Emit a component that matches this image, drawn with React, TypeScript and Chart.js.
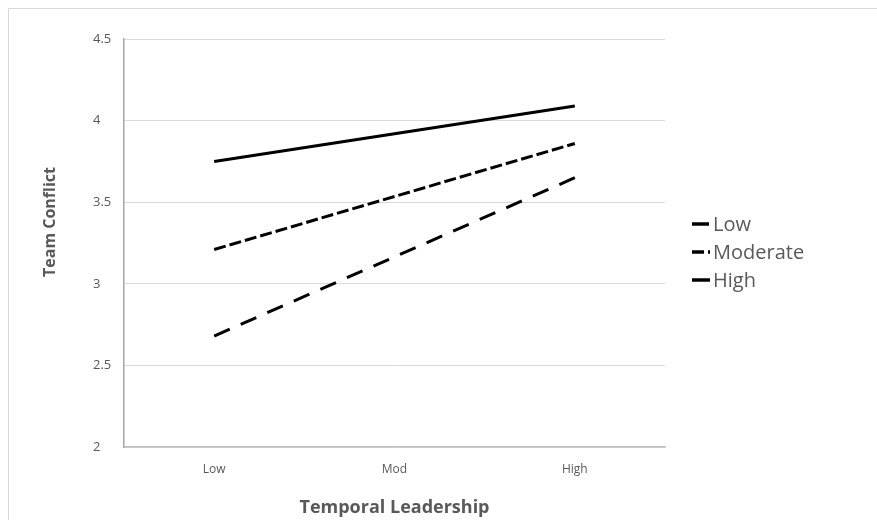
import React, { useEffect, useRef } from "react";
import { Chart, registerables } from "chart.js";

Chart.register(...registerables);

const categories = ["Low", "Mod", "High"];
const seriesNames = ["Low", "Moderate", "High"];
const lowValues = [2.68, 3.165, 3.65];
const moderateValues = [3.21, 3.535, 3.86];
const highValues = [3.75, 3.92, 4.09];
const yTicks = [2, 2.5, 3, 3.5, 4, 4.5];
const xTitle = "Temporal Leadership";
const yTitle = "Team Conflict";

const FONT = "'Open Sans', sans-serif";
const TEXT = "#595959";

const legendPlugin = {
  id: "customLegend",
  afterDraw(chart: any) {
    const { ctx, chartArea } = chart;
    const x0 = chartArea.right + 27;
    const yc = (chartArea.top + chartArea.bottom) / 2 + 9;
    const rowH = 28;
    const n = chart.data.datasets.length;
    ctx.save();
    chart.data.datasets.forEach((ds: any, i: number) => {
      const y = yc + (i - (n - 1) / 2) * rowH;
      ctx.beginPath();
      ctx.setLineDash(ds.borderDash || []);
      ctx.lineWidth = 3.5;
      ctx.strokeStyle = ds.borderColor;
      ctx.lineCap = "butt";
      ctx.moveTo(x0, y);
      ctx.lineTo(x0 + 18, y);
      ctx.stroke();
      ctx.setLineDash([]);
      ctx.fillStyle = TEXT;
      ctx.font = `20px ${FONT}`;
      ctx.textAlign = "left";
      ctx.textBaseline = "middle";
      ctx.fillText(ds.label, x0 + 21, y + 1);
    });
    ctx.restore();
  },
};

const yTitlePlugin = {
  id: "yTitle",
  afterDraw(chart: any) {
    const { ctx, chartArea } = chart;
    ctx.save();
    ctx.translate(41, (chartArea.top + chartArea.bottom) / 2 - 21);
    ctx.rotate(-Math.PI / 2);
    ctx.fillStyle = TEXT;
    ctx.font = `bold 16px ${FONT}`;
    ctx.textAlign = "center";
    ctx.textBaseline = "middle";
    ctx.fillText(yTitle, 0, 0);
    ctx.restore();
  },
};

export default function App() {
  const ref = useRef<HTMLCanvasElement>(null);

  useEffect(() => {
    if (!ref.current) return;
    const chart = new Chart(ref.current, {
      type: "line",
      data: {
        labels: categories,
        datasets: [
          {
            label: seriesNames[0],
            data: lowValues,
            borderColor: "#000000",
            backgroundColor: "#000000",
            borderWidth: 3,
            borderDash: [17, 12],
            pointRadius: 0,
            tension: 0,
          },
          {
            label: seriesNames[1],
            data: moderateValues,
            borderColor: "#000000",
            backgroundColor: "#000000",
            borderWidth: 3,
            borderDash: [12, 4],
            pointRadius: 0,
            tension: 0,
          },
          {
            label: seriesNames[2],
            data: highValues,
            borderColor: "#000000",
            backgroundColor: "#000000",
            borderWidth: 3,
            pointRadius: 0,
            tension: 0,
          },
        ],
      },
      options: {
        animation: false,
        responsive: false,
        devicePixelRatio: 1,
        layout: { padding: { left: 84, top: 30, right: 212, bottom: 0 } },
        plugins: {
          legend: { display: false },
          tooltip: { enabled: false },
        },
        scales: {
          x: {
            type: "category",
            offset: true,
            grid: { display: false, drawTicks: false },
            border: { display: true, color: "#bfbfbf", width: 1.5 },
            ticks: {
              color: TEXT,
              font: { family: FONT, size: 12 },
              padding: 15,
            },
            title: {
              display: true,
              text: xTitle,
              color: TEXT,
              font: { family: FONT, size: 18, weight: "bold" },
              padding: { top: 0, bottom: 1 },
            },
            afterFit(scale: any) {
              scale.height = 73;
            },
          },
          y: {
            min: 2,
            max: 4.5,
            afterBuildTicks(scale: any) {
              scale.ticks = yTicks.map((v) => ({ value: v }));
            },
            grid: { color: "#d9d9d9", lineWidth: 1, drawTicks: false },
            border: { display: true, color: "#a6a6a6", width: 1.5 },
            ticks: {
              color: TEXT,
              font: { family: FONT, size: 13 },
              crossAlign: "far",
              padding: 6,
              callback: (v: any) => String(v),
            },
            afterFit(scale: any) {
              scale.width = 31;
            },
          },
        },
      },
      plugins: [legendPlugin, yTitlePlugin],
    } as any);
    return () => chart.destroy();
  }, []);

  return (
    <div
      style={{
        position: "fixed",
        left: 8,
        top: 8,
        width: 869,
        height: 512,
        borderTop: "1px solid #d9d9d9",
        borderLeft: "1px solid #d9d9d9",
        background: "#fff",
        boxSizing: "border-box",
        overflow: "hidden",
      }}
    >
      <canvas ref={ref} width={868} height={511} style={{ display: "block" }} />
    </div>
  );
}
